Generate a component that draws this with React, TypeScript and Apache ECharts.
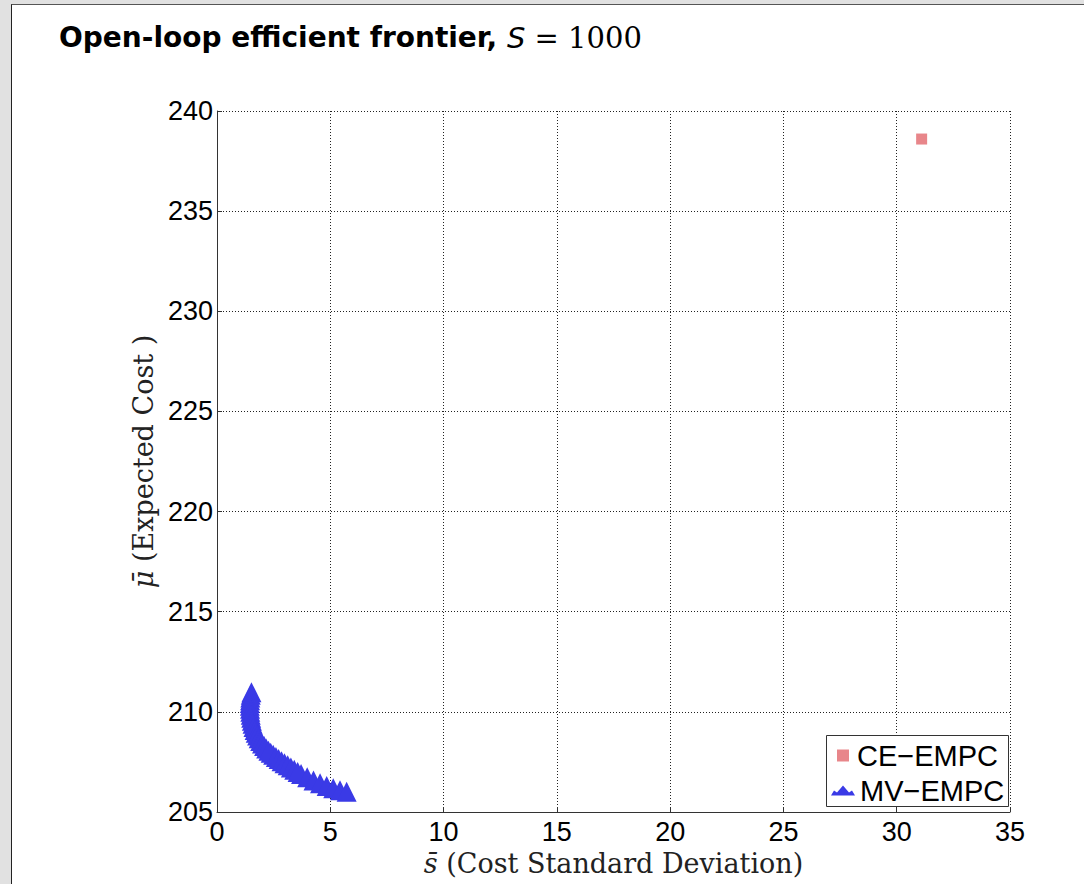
import React, { useEffect, useRef } from 'react';
import * as echarts from 'echarts';

const titleMain = 'Open-loop efficient frontier, ';
const titleVar = 'S';
const titleRest = ' = 1000';
const xAxisVar = 's\u0304';
const xAxisLabel = ' (Cost Standard Deviation)';
const yAxisVar = '\u03bc\u0304';
const yAxisLabel = ' (Expected Cost )';
const ceName = 'CE\u2212EMPC';
const mvName = 'MV\u2212EMPC';

const ceX = [31.1];
const ceY = [238.6];

const mvX = [
  1.52, 1.49, 1.47, 1.46, 1.45, 1.45, 1.46, 1.47, 1.49, 1.51, 1.54, 1.57, 1.61, 1.66, 1.71, 1.77,
  1.84, 1.91, 1.99, 2.08, 2.17, 2.27, 2.37, 2.48, 2.6, 2.72, 2.85, 2.98, 3.12, 3.26, 3.41, 3.56,
  3.71, 3.98, 4.26, 4.55, 4.84, 5.13, 5.43, 5.72,
];
const mvY = [
  210.98, 210.85, 210.72, 210.58, 210.44, 210.3, 210.15, 210.0, 209.85, 209.7, 209.55, 209.4, 209.25, 209.1, 208.96, 208.82,
  208.68, 208.55, 208.42, 208.29, 208.17, 208.06, 207.96, 207.86, 207.75, 207.65, 207.54, 207.44, 207.33, 207.22, 207.11, 207.0,
  206.9, 206.73, 206.57, 206.43, 206.3, 206.19, 206.09, 206.01,
];

const xMin = 0, xMax = 35, xStep = 5;
const yMin = 205, yMax = 240, yStep = 5;

export default function App() {
  const ref = useRef<HTMLDivElement>(null);
  useEffect(() => {
    if (!ref.current) return;
    const chart = echarts.init(ref.current, undefined, { renderer: 'svg' });
    const sans = 'Liberation Sans';
    const serif = 'DejaVu Serif';
    const nameStyle = {
      fontFamily: serif, fontSize: 27, color: '#222',
      rich: {
        m: { fontFamily: serif, fontStyle: 'italic', fontSize: 27, color: '#222' },
      },
    };
    chart.setOption({
      animation: false,
      backgroundColor: 'transparent',
      title: {
        left: 54,
        top: 18,
        text: `{b|${titleMain}}{i|${titleVar}}{n|${titleRest}}`,
        textStyle: {
          fontWeight: 'normal',
          rich: {
            b: { fontFamily: 'DejaVu Sans', fontWeight: 'bold', fontSize: 28, color: '#000' },
            i: { fontFamily: 'DejaVu Sans', fontStyle: 'italic', fontWeight: 'normal', fontSize: 29, color: '#000' },
            n: { fontFamily: 'DejaVu Serif', fontWeight: 'normal', fontSize: 29, color: '#000' },
          },
        },
      },
      grid: { left: 217, right: 74, top: 111, bottom: 72, containLabel: false },
      xAxis: {
        type: 'value',
        min: xMin,
        max: xMax,
        interval: xStep,
        name: `{m|${xAxisVar}}${xAxisLabel}`,
        nameLocation: 'middle',
        nameGap: 29,
        nameTextStyle: nameStyle,
        axisLine: { show: true, onZero: false, lineStyle: { color: '#333', width: 1 } },
        axisTick: { show: true, inside: true, length: 5, lineStyle: { color: '#333' } },
        axisLabel: { fontFamily: sans, fontSize: 27, color: '#000', margin: 6 },
        splitLine: { show: true, lineStyle: { color: '#222', type: [1, 2], width: 1 } },
      },
      yAxis: {
        type: 'value',
        min: yMin,
        max: yMax,
        interval: yStep,
        name: `{m|${yAxisVar}}${yAxisLabel}`,
        nameLocation: 'middle',
        nameGap: 52,
        nameTextStyle: nameStyle,
        axisLine: { show: true, onZero: false, lineStyle: { color: '#333', width: 1 } },
        axisTick: { show: true, inside: true, length: 5, lineStyle: { color: '#333' } },
        axisLabel: { fontFamily: sans, fontSize: 27, color: '#000', margin: 4 },
        splitLine: { show: true, lineStyle: { color: '#222', type: [1, 2], width: 1 } },
      },
      legend: [
        {
          data: [{ name: ceName, icon: 'rect' }],
          left: 837,
          top: 741,
          orient: 'vertical',
          padding: 0,
          itemWidth: 12,
          itemHeight: 12,
          selectedMode: false,
          textStyle: { fontFamily: sans, fontSize: 29, color: '#000', padding: [0, 0, 0, 3] },
        },
        {
          data: [{ name: mvName, icon: 'path://M0,10 L3,5 L6,7 L12,0 L18,7 L21,5 L24,10 Z' }],
          left: 831,
          top: 776,
          orient: 'vertical',
          padding: 0,
          itemWidth: 24,
          itemHeight: 10,
          selectedMode: false,
          textStyle: { fontFamily: sans, fontSize: 29, color: '#000' },
        },
      ],
      graphic: [
        {
          type: 'rect',
          z: 3,
          shape: { x: 826.5, y: 735.5, width: 182, height: 71 },
          style: { fill: '#fff', stroke: '#333', lineWidth: 1 },
        },
      ],
      series: [
        {
          name: ceName,
          type: 'scatter',
          symbol: 'rect',
          symbolSize: 11,
          itemStyle: { color: '#e8868a', opacity: 1 },
          data: ceX.map((x, i) => [x, ceY[i]]),
        },
        {
          name: mvName,
          type: 'scatter',
          symbol: 'triangle',
          symbolSize: 20,
          itemStyle: { color: '#3a3ae6', opacity: 1 },
          data: mvX.map((x, i) => [x, mvY[i]]),
        },
      ],
    });
    return () => chart.dispose();
  }, []);
  return (
    <div style={{ position: 'absolute', left: 0, top: 0, width: 1084, height: 884, background: '#e1e1e1', overflow: 'hidden' }}>
      <div style={{ position: 'absolute', left: 11, top: 4, width: 1100, height: 900, background: '#fff', borderLeft: '1.5px solid #222', borderTop: '1.5px solid #555' }} />
      <div ref={ref} style={{ position: 'absolute', left: 0, top: 0, width: 1084, height: 884 }} />
    </div>
  );
}
